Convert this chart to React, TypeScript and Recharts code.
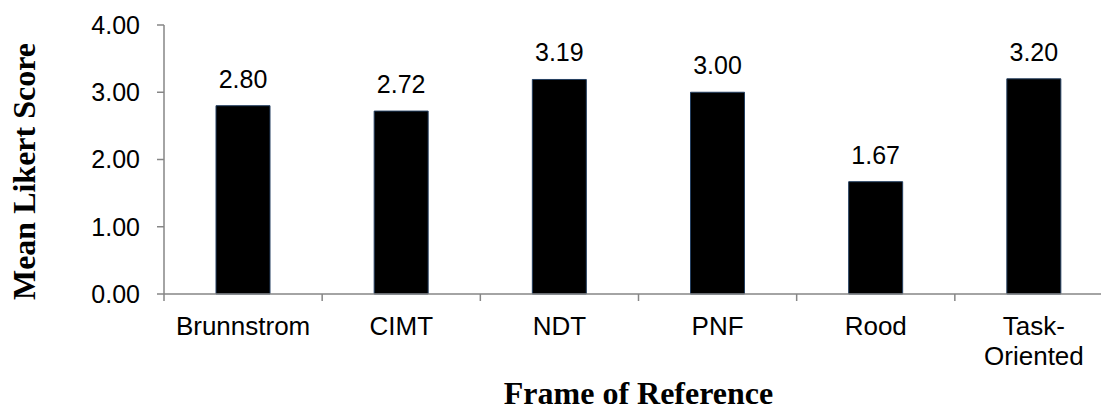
import { BarChart, Bar, XAxis, YAxis, LabelList } from 'recharts';

const categories = ['Brunnstrom', 'CIMT', 'NDT', 'PNF', 'Rood', 'Task-Oriented'];
const meanScores = [2.8, 2.72, 3.19, 3.0, 1.67, 3.2];
const yTicks = [0, 1, 2, 3, 4];

const data = categories.map((name, i) => ({ name, score: meanScores[i] }));

const SANS = '"Liberation Sans", Arial, Helvetica, sans-serif';
const SERIF = '"Liberation Serif", "Times New Roman", serif';
const AXIS = '#868686';

const CHART_W = 1120;
const CHART_H = 411;
const X_AXIS_H = 117;
const PLOT_LEFT = 164;
const PLOT_RIGHT = 1113;
const PLOT_BOTTOM = CHART_H - X_AXIS_H;
const BAND = (PLOT_RIGHT - PLOT_LEFT) / categories.length;

// ticks sit between categories, not under them
const CategoryTick = ({ x, payload, index }: any) => {
  const parts = payload.value.includes('-')
    ? [payload.value.split('-')[0] + '-', payload.value.split('-')[1]]
    : [payload.value];
  return (
    <g>
      <line x1={x - BAND / 2} y1={PLOT_BOTTOM} x2={x - BAND / 2} y2={PLOT_BOTTOM + 7} stroke={AXIS} strokeWidth={1.5} />
      {index === categories.length - 1 && (
        <line x1={x + BAND / 2} y1={PLOT_BOTTOM} x2={x + BAND / 2} y2={PLOT_BOTTOM + 7} stroke={AXIS} strokeWidth={1.5} />
      )}
      {parts.map((p: string, i: number) => (
        <text key={i} x={x} y={PLOT_BOTTOM + 41 + i * 30} textAnchor="middle" fontFamily={SANS} fontSize={26} fill="#000">
          {p}
        </text>
      ))}
    </g>
  );
};

const App = () => {
  return (
    <div style={{ position: 'absolute', left: 0, top: 0, width: 1101, height: 411, overflow: 'hidden', background: '#fff' }}>
      <BarChart
        width={CHART_W}
        height={CHART_H}
        data={data}
        margin={{ top: 25, right: CHART_W - PLOT_RIGHT, left: 0, bottom: 0 }}
      >
        <XAxis
          dataKey="name"
          height={X_AXIS_H}
          axisLine={{ stroke: AXIS, strokeWidth: 1.5 }}
          tickLine={false}
          interval={0}
          tick={<CategoryTick />}
          label={{
            content: () => (
              <text x={(PLOT_LEFT + PLOT_RIGHT) / 2} y={404} textAnchor="middle" fontFamily={SERIF} fontWeight="bold" fontSize={32} fill="#000">
                Frame of Reference
              </text>
            ),
          }}
        />
        <YAxis
          width={PLOT_LEFT}
          domain={[0, 4]}
          ticks={yTicks}
          tickFormatter={(v: number) => v.toFixed(2)}
          axisLine={{ stroke: AXIS, strokeWidth: 1.5 }}
          tickLine={{ stroke: AXIS, strokeWidth: 1.5 }}
          tickSize={7}
          tickMargin={17}
          tick={{ fill: '#000', fontSize: 25, fontFamily: SANS }}
          label={{
            content: () => (
              <text x={35} y={171.5} transform="rotate(-90, 35, 171.5)" textAnchor="middle" fontFamily={SERIF} fontWeight="bold" fontSize={32} fill="#000">
                Mean Likert Score
              </text>
            ),
          }}
        />
        <Bar dataKey="score" fill="#000" stroke="#243F60" strokeWidth={1} barSize={54} isAnimationActive={false}>
          <LabelList
            dataKey="score"
            position="top"
            offset={18}
            formatter={(v: any) => Number(v).toFixed(2)}
            style={{ fill: '#000', fontSize: 25, fontFamily: SANS }}
          />
        </Bar>
      </BarChart>
    </div>
  );
};

export default App;
